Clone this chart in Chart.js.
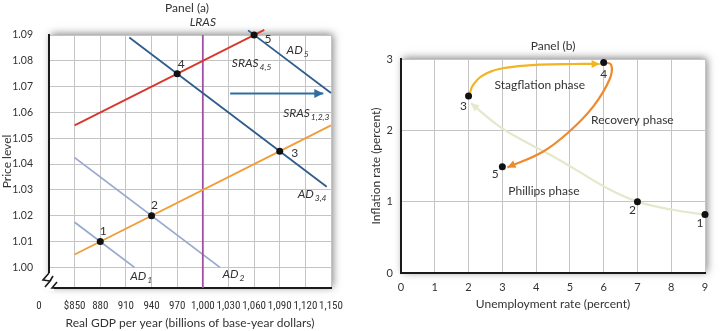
<!DOCTYPE html>
<html>
<head>
<meta charset="utf-8">
<script src="https://cdn.jsdelivr.net/npm/chart.js@4.4.0/dist/chart.umd.min.js"></script>
<style>
  html, body { margin: 0; padding: 0; background: #fff; }
  #wrap { position: relative; width: 720px; height: 331px; }
  canvas { position: absolute; top: 0; }
  #chartA { left: 0; }
  #chartB { left: 360px; }
</style>
</head>
<body>
<div id="wrap">
  <canvas id="chartA" width="360" height="331"></canvas>
  <canvas id="chartB" width="360" height="331"></canvas>
</div>
<script>
// ---- panel (a): aggregate demand / supply ----
const gdpTicks = [850, 880, 910, 940, 970, 1000, 1030, 1060, 1090, 1120, 1150];
const priceTicks = [1.00, 1.01, 1.02, 1.03, 1.04, 1.05, 1.06, 1.07, 1.08, 1.09];

const lras = [[1000, 0.992], [1000, 1.09]];
const sras123 = [[850, 1.005], [1150, 1.055]];
const sras45 = [[850, 1.055], [1072, 1.092]];
const ad1 = [[850, 1.0175], [920, 1.0]];
const ad2 = [[850, 1.0425], [1020, 1.0]];
const ad34 = [[914, 1.089], [1145, 1.03125]];
const ad5 = [[1053, 1.0918], [1150, 1.0675]];
const shiftArrow = [[1032, 1.0673], [1141, 1.0673]];
const pointsA = [[880, 1.01], [940, 1.02], [1090, 1.045], [970, 1.075], [1060, 1.09]];
const pointNames = ['1', '2', '3', '4', '5'];

// ---- panel (b): inflation vs unemployment ----
const unempTicks = [0, 1, 2, 3, 4, 5, 6, 7, 8, 9];
const inflTicks = [0, 1, 2, 3];
const phillips = [[9, 0.82], [8, 0.89], [7, 1.0], [6.1, 1.19], [5.1, 1.47], [4.4, 1.66], [3.6, 1.86], [2.9, 2.06], [2.07, 2.38]];
const stagflation = [[2.02, 2.48], [2.14, 2.64], [2.54, 2.8], [3.13, 2.88], [4.11, 2.92], [5.1, 2.93], [5.88, 2.93]];
const recovery = [[6.0, 2.95], [6.22, 2.92], [6.18, 2.72], [5.7, 2.34], [5.0, 1.99], [4.2, 1.7], [3.15, 1.48]];
const pointsB = [[9, 0.82], [7, 1.0], [2, 2.48], [6, 2.95], [3, 1.49]];

const FONT = 'Lato, "Open Sans", sans-serif';
const NARROW = '"Liberation Sans Narrow", "Roboto Condensed", Roboto, sans-serif';
Chart.defaults.font.family = FONT;
Chart.defaults.color = '#333';

const toXY = pts => pts.map(([x, y]) => ({ x: x, y: y }));

function line(pts, color, width, extra) {
    return Object.assign({
        data: toXY(pts),
        showLine: true,
        borderColor: color,
        backgroundColor: color,
        borderWidth: width,
        pointRadius: 0,
        clip: false
    }, extra || {});
}

function dots(pts) {
    return {
        data: toXY(pts),
        pointRadius: 3.5,
        pointBackgroundColor: '#111',
        pointBorderWidth: 0,
        clip: false
    };
}

// text with optional subscript
function drawText(ctx, x, y, main, sub, italic, align) {
    const size = 12;
    ctx.fillStyle = '#333';
    ctx.textBaseline = 'middle';
    ctx.textAlign = 'left';
    ctx.font = (italic ? 'italic ' : '') + size + 'px ' + FONT;
    const w = ctx.measureText(main).width;
    let sw = 0;
    if (sub) {
        ctx.font = (italic ? 'italic ' : '') + '8.5px ' + FONT;
        sw = ctx.measureText(sub).width + 1;
    }
    const x0 = align === 'center' ? x - (w + sw) / 2 : x;
    ctx.font = (italic ? 'italic ' : '') + size + 'px ' + FONT;
    ctx.fillText(main, x0, y);
    if (sub) {
        ctx.font = (italic ? 'italic ' : '') + '8.5px ' + FONT;
        ctx.fillText(sub, x0 + w + 1, y + 4);
    }
}

// white frame with a soft shadow behind the plot
const framePlugin = {
    id: 'frame',
    beforeDraw(chart) {
        const { ctx, chartArea: a } = chart;
        ctx.save();
        ctx.shadowColor = 'rgba(0,0,0,0.5)';
        ctx.shadowBlur = 8;
        ctx.shadowOffsetX = 2;
        ctx.shadowOffsetY = -1;
        ctx.fillStyle = '#fff';
        ctx.fillRect(a.left, a.top, a.right - a.left, a.bottom - a.top);
        ctx.restore();
    }
};

// arrowheads at the end of datasets marked arrow: <size>
const arrowPlugin = {
    id: 'arrows',
    afterDatasetsDraw(chart) {
        const ctx = chart.ctx;
        chart.data.datasets.forEach((ds, i) => {
            if (!ds.arrow) return;
            const pts = chart.getDatasetMeta(i).data;
            const last = pts[pts.length - 1];
            const prev = pts[pts.length - 2];
            let fx = prev.x, fy = prev.y;
            if (last.cp1x !== undefined && ds.tension) { fx = last.cp1x; fy = last.cp1y; }
            const ang = Math.atan2(last.y - fy, last.x - fx);
            const len = ds.arrow, half = ds.arrow * 0.5;
            ctx.save();
            ctx.translate(last.x, last.y);
            ctx.rotate(ang);
            ctx.fillStyle = ds.borderColor;
            ctx.beginPath();
            ctx.moveTo(0, 0);
            ctx.lineTo(-len, -half);
            ctx.lineTo(-len, half);
            ctx.closePath();
            ctx.fill();
            ctx.restore();
        });
    }
};

// ---- panel (a) labels ----
const curveLabelsA = [
    { main: 'AD', sub: '1', x: 915, y: 0.9966 },
    { main: 'AD', sub: '2', x: 1023, y: 0.9974 },
    { main: 'AD', sub: '3,4', x: 1111, y: 1.0285 },
    { main: 'AD', sub: '5', x: 1098, y: 1.0842 },
    { main: 'SRAS', sub: '4,5', x: 1034, y: 1.0791 },
    { main: 'SRAS', sub: '1,2,3', x: 1094, y: 1.0597 }
];
const pointOffsetsA = [[3, -10], [3, -11], [15, 2], [4, -10], [14, 4]];

const labelsPluginA = {
    id: 'labelsA',
    afterDraw(chart) {
        const { ctx, chartArea: a } = chart;
        const xs = chart.scales.x, ys = chart.scales.y;
        ctx.save();
        drawText(ctx, (a.left + a.right) / 2 - 3, 8, 'Panel (a)', null, false, 'center');
        drawText(ctx, xs.getPixelForValue(1000), a.top - 13, 'LRAS', null, true, 'center');
        curveLabelsA.forEach(l => drawText(ctx, xs.getPixelForValue(l.x), ys.getPixelForValue(l.y), l.main, l.sub, true, 'left'));
        pointsA.forEach((p, i) => {
            drawText(ctx, xs.getPixelForValue(p[0]) + pointOffsetsA[i][0], ys.getPixelForValue(p[1]) + pointOffsetsA[i][1], pointNames[i], null, false, 'center');
        });
        ctx.font = '11px ' + NARROW;
        ctx.textAlign = 'center';
        ctx.fillText('0', a.left - 10, a.bottom + 18);

        // axis break at the origin
        const L = a.left, B = a.bottom;
        ctx.fillStyle = '#fff';
        ctx.fillRect(L - 3, B - 15, 8, 18);
        ctx.strokeStyle = '#1a1a1a';
        ctx.lineWidth = 1.6;
        ctx.lineJoin = 'miter';
        ctx.beginPath();
        ctx.moveTo(L, B - 15);
        ctx.lineTo(L - 6, B - 8);
        ctx.lineTo(L + 1, B - 7);
        ctx.lineTo(L - 4, B - 1);
        ctx.stroke();
        ctx.beginPath();
        ctx.moveTo(L + 4, B - 12);
        ctx.lineTo(L + 1, B - 7);
        ctx.moveTo(L + 8, B - 6);
        ctx.lineTo(L + 3, B);
        ctx.lineTo(L + 8, B);
        ctx.stroke();
        ctx.restore();
    }
};

new Chart(document.getElementById('chartA'), {
    type: 'scatter',
    data: {
        datasets: [
            dots(pointsA),
            line(shiftArrow, '#2f6ca3', 2, { arrow: 9 }),
            line(ad5, '#2f5c8c', 1.8),
            line(ad34, '#2f5c8c', 1.8),
            line(sras45, '#d8372e', 1.8),
            line(sras123, '#f29b38', 1.8),
            line(lras, '#a24fa3', 1.8, { clip: 0 }),
            line(ad2, '#98a9cf', 1.8),
            line(ad1, '#98a9cf', 1.8)
        ]
    },
    options: {
        responsive: false,
        animation: false,
        events: [],
        layout: { padding: { left: 0, right: 29, top: 35, bottom: 0 } },
        plugins: { legend: { display: false }, tooltip: { enabled: false } },
        scales: {
            x: {
                type: 'linear',
                min: 820,
                max: 1150,
                afterBuildTicks: s => { s.ticks = gdpTicks.map(v => ({ value: v })); },
                afterFit: s => { s.height = 43; },
                grid: { color: '#c4c4c4', lineWidth: 1, drawTicks: false },
                border: { color: '#1a1a1a', width: 2 },
                ticks: {
                    padding: 12,
                    maxRotation: 0,
                    autoSkip: false,
                    font: { size: 11, family: NARROW },
                    callback: v => v === 850 ? '$850' : v.toLocaleString('en-US')
                },
                title: { display: true, text: 'Real GDP per year (billions of base-year dollars)', font: { size: 12 }, padding: { top: 0, bottom: 1 } }
            },
            y: {
                type: 'linear',
                min: 0.992,
                max: 1.09,
                afterBuildTicks: s => { s.ticks = priceTicks.map(v => ({ value: v })); },
                afterFit: s => { s.width = 49; },
                grid: { color: '#c4c4c4', lineWidth: 1, drawTicks: false },
                border: { color: '#1a1a1a', width: 2 },
                ticks: { padding: 16, font: { size: 10.5 }, callback: v => v.toFixed(2) },
                title: { display: true, text: 'Price level', font: { size: 12 }, padding: { top: 0, bottom: 0 } }
            }
        }
    },
    plugins: [framePlugin, arrowPlugin, labelsPluginA]
});

// ---- panel (b) labels ----
const phaseLabels = [
    { text: 'Stagflation phase', x: 4.11, y: 2.63 },
    { text: 'Recovery phase', x: 6.85, y: 2.15 },
    { text: 'Phillips phase', x: 4.23, y: 1.15 }
];
const pointOffsetsB = [[-5, 9], [-5, 8], [-5, 10], [0, 12], [-7, 7]];

const labelsPluginB = {
    id: 'labelsB',
    afterDraw(chart) {
        const { ctx, chartArea: a } = chart;
        const xs = chart.scales.x, ys = chart.scales.y;
        ctx.save();
        drawText(ctx, (a.left + a.right) / 2, 46, 'Panel (b)', null, false, 'center');
        phaseLabels.forEach(l => drawText(ctx, xs.getPixelForValue(l.x), ys.getPixelForValue(l.y), l.text, null, false, 'center'));
        pointsB.forEach((p, i) => {
            drawText(ctx, xs.getPixelForValue(p[0]) + pointOffsetsB[i][0], ys.getPixelForValue(p[1]) + pointOffsetsB[i][1], pointNames[i], null, false, 'center');
        });
        ctx.restore();
    }
};

new Chart(document.getElementById('chartB'), {
    type: 'scatter',
    data: {
        datasets: [
            dots(pointsB),
            line(recovery, '#ee8a2b', 2.2, { tension: 0.4, arrow: 8 }),
            line(stagflation, '#f3b424', 2.2, { tension: 0.45, arrow: 8 }),
            line(phillips, '#e5e8cb', 2.2, { tension: 0.4, arrow: 8 })
        ]
    },
    options: {
        responsive: false,
        animation: false,
        events: [],
        layout: { padding: { left: 0, right: 15, top: 59, bottom: 0 } },
        plugins: { legend: { display: false }, tooltip: { enabled: false } },
        scales: {
            x: {
                type: 'linear',
                min: 0,
                max: 9,
                afterBuildTicks: s => { s.ticks = unempTicks.map(v => ({ value: v })); },
                afterFit: s => { s.height = 58; },
                grid: { color: '#c4c4c4', lineWidth: 1, drawTicks: false },
                border: { color: '#1a1a1a', width: 2 },
                ticks: { padding: 8, font: { size: 11 } },
                title: { display: true, text: 'Unemployment rate (percent)', font: { size: 12 }, padding: { top: 0, bottom: 20 } }
            },
            y: {
                type: 'linear',
                min: 0,
                max: 3,
                afterBuildTicks: s => { s.ticks = inflTicks.map(v => ({ value: v })); },
                afterFit: s => { s.width = 41; },
                grid: { color: '#c4c4c4', lineWidth: 1, drawTicks: false },
                border: { color: '#1a1a1a', width: 2 },
                ticks: { padding: 8, font: { size: 11 } },
                title: { display: true, text: 'Inflation rate (percent)', font: { size: 12 }, padding: { top: 9, bottom: 0 } }
            }
        }
    },
    plugins: [framePlugin, arrowPlugin, labelsPluginB]
});
</script>
</body>
</html>
